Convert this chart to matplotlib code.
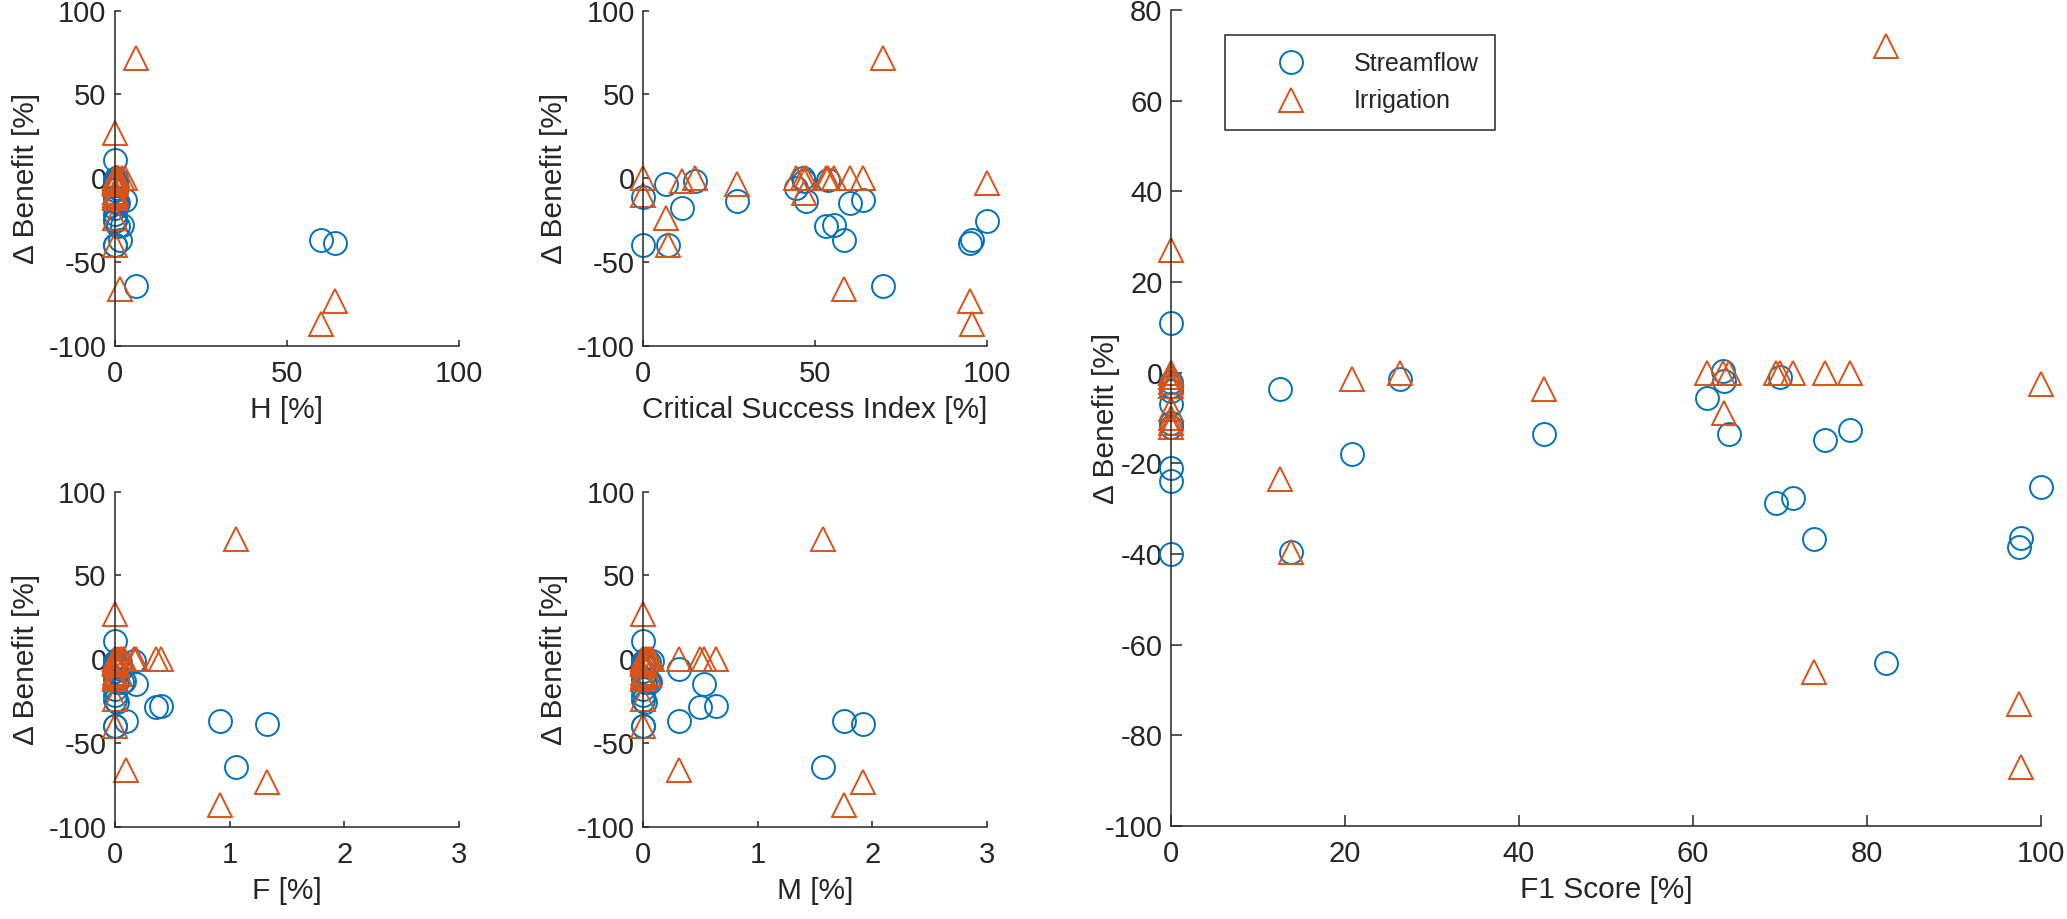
import matplotlib.pyplot as plt
import numpy as np

# per-site values (nan = not shown in that panel)
nan = np.nan
f1_score = [0, 0, 0, 0, 0, 0, 0, 0, 0, 0,
            12.5, 13.8, 20.8, 26.3, 42.9, 61.6, 63.4, 63.6, 64.2, 69.5,
            70.0, 71.5, 73.9, 75.2, 78.0, 82.2, 97.5, 97.7, 100]
csi = [nan, nan, nan, nan, nan, 0, nan, nan, nan, 0,
       6.7, 7.4, 11.4, 15.1, 27.2, 44.6, 46.4, 46.7, 47.3, 53.3,
       53.8, 55.6, 58.5, 60.3, 63.9, 69.8, 95.1, 95.5, 100]
h_pct = [0, 0, 0, 0, 0, 0, 0, 0, 0, 0,
         0, 0, 0, 0, 0, 0.5, 0.3, 0.3, 0.5, 1.0,
         0.2, 2.0, 1.5, 1.0, 3.0, 6.0, 64, 60, 0]
f_pct = [0, 0, 0, 0, 0, 0, 0, 0, 0, 0,
         0, 0, 0, 0, 0.02, 0.05, 0.03, 0.04, 0.06, 0.36,
         0.17, 0.40, 0.10, 0.18, 0.08, 1.06, 1.33, 0.92, 0.02]
m_pct = [0, 0, 0, 0, 0, 0, 0, 0, 0, 0,
         0, 0, 0, 0, 0.02, 0.31, 0.03, 0.05, 0.06, 0.50,
         0.08, 0.64, 0.31, 0.53, 0.04, 1.57, 1.92, 1.75, 0.02]
streamflow = [11, -2, -3, -4, -7, -11, -12, -21, -24, -40,
              -3.5, -39.5, -18, -1.5, -13.5, -5.6, 0.4, -1.8, -13.6, -28.7,
              -1.0, -27.6, -36.8, -14.9, -12.7, -64, -38.5, -36.5, -25.3]
irrigation = [27, 0, -1, -3, -8, -10, -12, -2, -11, 0,
              -23.5, -39.5, -1.5, 0, -3.5, 0, 0, -8.8, 0, 0,
              0, 0, -66, 0, 0, 72, -73, -87, -2.6]

blue = '#0072BD'
orange = '#D95319'
dark = '#262626'

plt.rcParams['font.family'] = ['Liberation Sans', 'DejaVu Sans']
plt.rcParams['font.size'] = 20
plt.rcParams['axes.unicode_minus'] = False

fig = plt.figure(figsize=(20.67, 9.19), dpi=100)


def draw(ax, x, xlabel, xlim, xticks, ylim, yticks, ticklen, ypad=6):
    ax.plot(x, streamflow, 'o', ls='none', mfc='none', mec=blue, ms=16.5,
            mew=1.4, clip_on=False, label='Streamflow')
    ax.plot(x, irrigation, '^', ls='none', mfc='none', mec=orange, ms=17.5,
            mew=1.4, clip_on=False, label='Irrigation')
    ax.set_xlim(xlim)
    ax.set_ylim(ylim)
    ax.set_xticks(xticks)
    ax.set_yticks(yticks)
    ax.set_xlabel(xlabel, color=dark, fontsize=21.5, labelpad=6)
    ax.set_ylabel('Δ Benefit [%]', color=dark, fontsize=21.5, labelpad=ypad)
    for s in ['top', 'right']:
        ax.spines[s].set_visible(False)
    for s in ['left', 'bottom']:
        ax.spines[s].set_color(dark)
        ax.spines[s].set_linewidth(1.1)
    ax.tick_params(direction='in', length=ticklen, width=1.1, colors=dark,
                   labelsize=21)
    ax.tick_params(axis='y', pad=6)
    ax.tick_params(axis='x', pad=10)


w_s, h_s = 0.1664, 0.365
ax1 = fig.add_axes([0.0556, 0.6235, w_s, h_s])
draw(ax1, h_pct, 'H [%]', (0, 100), [0, 50, 100], (-100, 100),
     [-100, -50, 0, 50, 100], 4)
ax2 = fig.add_axes([0.3111, 0.6235, w_s, h_s])
draw(ax2, csi, 'Critical Success Index [%]', (0, 100), [0, 50, 100],
     (-100, 100), [-100, -50, 0, 50, 100], 4)
ax3 = fig.add_axes([0.0556, 0.1001, w_s, h_s])
draw(ax3, f_pct, 'F [%]', (0, 3), [0, 1, 2, 3], (-100, 100),
     [-100, -50, 0, 50, 100], 4)
ax4 = fig.add_axes([0.3111, 0.1001, w_s, h_s])
draw(ax4, m_pct, 'M [%]', (0, 3), [0, 1, 2, 3], (-100, 100),
     [-100, -50, 0, 50, 100], 4)
ax5 = fig.add_axes([0.5665, 0.1012, 0.4209, 0.8879])
draw(ax5, f1_score, 'F1 Score [%]', (0, 100), np.arange(0, 101, 20),
     (-100, 80), np.arange(-100, 81, 20), 8, ypad=-11)

leg = ax5.legend(loc='upper left', bbox_to_anchor=(0.062, 0.969),
                 borderaxespad=0, frameon=True, fancybox=False, framealpha=1,
                 edgecolor=dark, handlelength=4.0, handletextpad=0.5,
                 borderpad=0.65, labelspacing=0.55, fontsize=18)
leg.get_frame().set_linewidth(1.1)
for t in leg.get_texts():
    t.set_color(dark)

fig.savefig('out.png', dpi=100)
